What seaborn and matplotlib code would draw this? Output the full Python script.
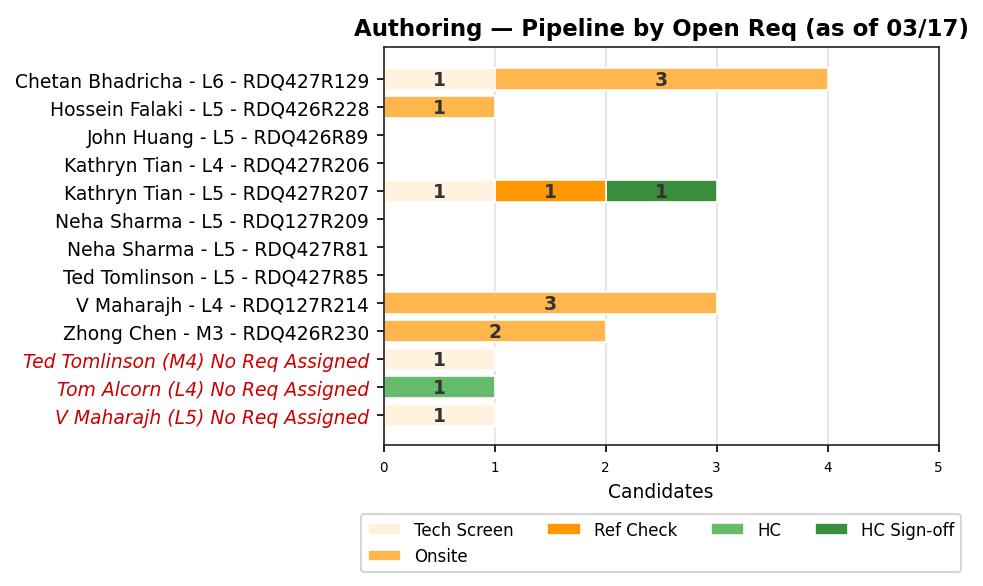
import numpy as np
import pandas as pd
import matplotlib
matplotlib.use("Agg")
import matplotlib.pyplot as plt
import seaborn as sns

reqs = [
    "Chetan Bhadricha - L6 - RDQ427R129",
    "Hossein Falaki - L5 - RDQ426R228",
    "John Huang - L5 - RDQ426R89",
    "Kathryn Tian - L4 - RDQ427R206",
    "Kathryn Tian - L5 - RDQ427R207",
    "Neha Sharma - L5 - RDQ127R209",
    "Neha Sharma - L5 - RDQ427R81",
    "Ted Tomlinson - L5 - RDQ427R85",
    "V Maharajh - L4 - RDQ127R214",
    "Zhong Chen - M3 - RDQ426R230",
    "Ted Tomlinson (M4) No Req Assigned",
    "Tom Alcorn (L4) No Req Assigned",
    "V Maharajh (L5) No Req Assigned",
]
stages = ["Tech Screen", "Onsite", "Ref Check", "HC", "HC Sign-off"]
tech_screen = [1, 0, 0, 0, 1, 0, 0, 0, 0, 0, 1, 0, 1]
onsite      = [3, 1, 0, 0, 0, 0, 0, 0, 3, 2, 0, 0, 0]
ref_check   = [0, 0, 0, 0, 1, 0, 0, 0, 0, 0, 0, 0, 0]
hc          = [0, 0, 0, 0, 0, 0, 0, 0, 0, 0, 0, 1, 0]
hc_signoff  = [0, 0, 0, 0, 1, 0, 0, 0, 0, 0, 0, 0, 0]
colors = ["#FFF3E0", "#FFB74D", "#FF9800", "#66BB6A", "#388E3C"]

df = pd.DataFrame({"req": reqs, "Tech Screen": tech_screen, "Onsite": onsite,
                   "Ref Check": ref_check, "HC": hc, "HC Sign-off": hc_signoff})
cum = df[stages].cumsum(axis=1)

sns.set_style("ticks")
plt.rcParams["font.family"] = ["DejaVu Sans"]
plt.rcParams.update({"text.color": "black", "axes.labelcolor": "black",
                     "xtick.color": "black", "ytick.color": "black"})

fig, ax = plt.subplots(figsize=(6.56, 3.913), dpi=150)
fig.subplots_adjust(left=0.390, right=0.954, top=0.918, bottom=0.240)

# draw cumulative totals from the last stage back to the first so segments stack
for stage, col in reversed(list(zip(stages, colors))):
    sns.barplot(x=cum[stage], y=df["req"], orient="h", color=col, label=stage,
                saturation=1, edgecolor="white", linewidth=0.8, width=0.8,
                ax=ax, zorder=2)

for i in range(len(df)):
    start = 0
    for stage in stages:
        v = df.loc[i, stage]
        if v > 0:
            ax.text(start + v / 2, i, str(v), ha="center", va="center",
                    fontsize=9, fontweight="bold", color="#333333", zorder=3)
        start += v

ax.set_xlim(0, 5)
ax.set_ylim(len(df) - 1 + 1.07, -1.14)
ax.set_xticks(range(6))
ax.tick_params(axis="x", labelsize=6.5)
ax.tick_params(axis="y", labelsize=9)
ax.grid(axis="x", color="#e6e6e6", linewidth=1, zorder=0)
ax.set_axisbelow(True)
for s in ax.spines.values():
    s.set_visible(True)
    s.set_color("#222222")

for lbl in ax.get_yticklabels():
    if "No Req Assigned" in lbl.get_text():
        lbl.set_color("#CC0000")
        lbl.set_style("italic")

ax.set_xlabel("Candidates", fontsize=9)
ax.set_ylabel("")
ax.set_title("Authoring — Pipeline by Open Req (as of 03/17)", fontsize=11,
             fontweight="bold")

handles, labels = ax.get_legend_handles_labels()
order = [labels.index(s) for s in stages]
ax.legend([handles[k] for k in order], stages, loc="upper center",
          bbox_to_anchor=(0.5, -0.153), ncol=4, fontsize=8, frameon=True)

fig.savefig("out.png", dpi=150)
